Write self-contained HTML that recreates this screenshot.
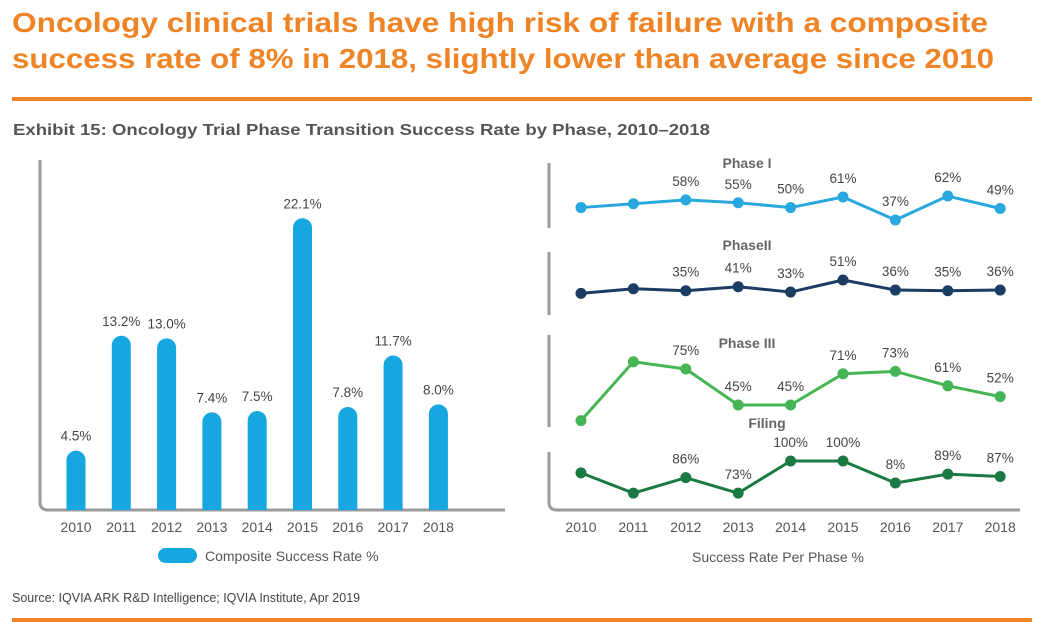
<!DOCTYPE html>
<html><head><meta charset="utf-8"><style>
html,body{margin:0;padding:0;background:#fff;}
svg{display:block;font-family:"Liberation Sans",sans-serif;}
</style></head><body>
<svg id="root" width="1048" height="636" viewBox="0 0 1048 636" xmlns="http://www.w3.org/2000/svg">
<text x="12" y="32" font-size="28" font-weight="bold" fill="#ef8427" textLength="976" lengthAdjust="spacingAndGlyphs">Oncology clinical trials have high risk of failure with a composite</text>
<text x="12" y="68" font-size="28" font-weight="bold" fill="#ef8427" textLength="982" lengthAdjust="spacingAndGlyphs">success rate of 8% in 2018, slightly lower than average since 2010</text>
<rect x="12" y="97" width="1020" height="4" fill="#ef8427"/>
<text x="13" y="135" font-size="16" font-weight="bold" fill="#555" textLength="697" lengthAdjust="spacingAndGlyphs">Exhibit 15: Oncology Trial Phase Transition Success Rate by Phase, 2010–2018</text>
<text x="12" y="602" font-size="12.5" fill="#444">Source: IQVIA ARK R&amp;D Intelligence; IQVIA Institute, Apr 2019</text>
<rect x="12" y="618" width="1020" height="4" fill="#ef8427"/>
<g id="left"></g>
<g id="right"></g>
</svg>
<script>
const years = ['2010','2011','2012','2013','2014','2015','2016','2017','2018'];
const composite = [4.5,13.2,13.0,7.4,7.5,22.1,7.8,11.7,8.0];
const compositeLabels = ['4.5%','13.2%','13.0%','7.4%','7.5%','22.1%','7.8%','11.7%','8.0%'];
const phase1 = [50,54,58,55,50,61,37,62,49];
const phase1Labels = ['','','58%','55%','50%','61%','37%','62%','49%'];
const phase2 = [31,38,35,41,33,51,36,35,36];
const phase2Labels = ['','','35%','41%','33%','51%','36%','35%','36%'];
const phase3 = [32,81,75,45,45,71,73,61,52];
const phase3Labels = ['','','75%','45%','45%','71%','73%','61%','52%'];
const filing = [90,73,86,73,100,100,81.5,89,87];
const filingLabels = ['','','86%','73%','100%','100%','8%','89%','87%'];

const NS='http://www.w3.org/2000/svg';
function mk(tag, attrs, parent, text){
  const e=document.createElementNS(NS,tag);
  for(const k in attrs) e.setAttribute(k,attrs[k]);
  if(text!==undefined) e.textContent=text;
  parent.appendChild(e); return e;
}
const L=document.getElementById('left'), R=document.getElementById('right');

// Left bar chart
const xBar = i => 76 + i*45.3;
const yBar = v => 510 - v*13.2;
let ax = mk('path',{d:'M40 160 V502 Q40 510 48 510 H505',fill:'none',stroke:'#9a9a9a','stroke-width':3},L);


composite.forEach((v,i)=>{
  const x=xBar(i), top=yBar(v);
  const b=mk('path',{d:`M${x-9.5} 510 V${top+9.5} A9.5 9.5 0 0 1 ${x+9.5} ${top+9.5} V510 Z`,fill:'#16a6e0'},L);
  
  
  const t=mk('text',{x:x,y:top-10,'font-size':13.5,fill:'#444','text-anchor':'middle'},L,compositeLabels[i]);
  
  
  const yl=mk('text',{x:x,y:532,'font-size':14,fill:'#555','text-anchor':'middle'},L,years[i]);
  
  
});
const lg=mk('rect',{x:158,y:548,width:39,height:15,rx:7.5,fill:'#16a6e0'},L);


const lt=mk('text',{x:205,y:561,'font-size':14,fill:'#555'},L,'Composite Success Rate %');



// Right line chart
const xLine = i => 581 + i*52.4;
const panels=[
 {name:'phase-1',title:'Phase I',tx:747,ty:168,vals:phase1,labels:phase1Labels,color:'#29a8df',ref:61,refY:197,k:0.96},
 {name:'phase-2',title:'PhaseII',tx:747,ty:250,vals:phase2,labels:phase2Labels,color:'#1b3c63',ref:51,refY:280,k:0.67},
 {name:'phase-3',title:'Phase III',tx:747,ty:348,vals:phase3,labels:phase3Labels,color:'#45b555',ref:75,refY:369,k:1.2},
 {name:'filing',title:'Filing',tx:767,ty:428,vals:filing,labels:filingLabels,color:'#1b7a43',ref:100,refY:461,k:1.19}
];
[[163,228],[252,315],[335,427]].forEach((s,i)=>{
  const p=mk('path',{d:`M549 ${s[0]} V${s[1]}`,stroke:'#9a9a9a','stroke-width':3},R);
  
  
});
const ra=mk('path',{d:'M549 452 V502 Q549 510 557 510 H1020',fill:'none',stroke:'#9a9a9a','stroke-width':3},R);


panels.forEach(p=>{
  const y=v=>p.refY-(v-p.ref)*p.k;
  const tt=mk('text',{x:p.tx,y:p.ty,'font-size':14,'font-weight':'bold',fill:'#666','text-anchor':'middle'},R,p.title);
  
  
  const pts=p.vals.map((v,i)=>xLine(i)+','+y(v)).join(' ');
  const pl=mk('polyline',{points:pts,fill:'none',stroke:p.color,'stroke-width':3,'stroke-linejoin':'round'},R);
  
  
  p.vals.forEach((v,i)=>{
    const c=mk('circle',{cx:xLine(i),cy:y(v),r:5.5,fill:p.color},R);
    
    
    if(p.labels[i]){
      const t=mk('text',{x:xLine(i),y:y(v)-14,'font-size':13.5,fill:'#444','text-anchor':'middle'},R,p.labels[i]);
      
      
    }
  });
});
years.forEach((yr,i)=>{
  const t=mk('text',{x:xLine(i),y:532,'font-size':14,fill:'#555','text-anchor':'middle'},R,yr);
  
  
});
const rl=mk('text',{x:778,y:562,'font-size':14,fill:'#555','text-anchor':'middle'},R,'Success Rate Per Phase %');


</script>
</body></html>
